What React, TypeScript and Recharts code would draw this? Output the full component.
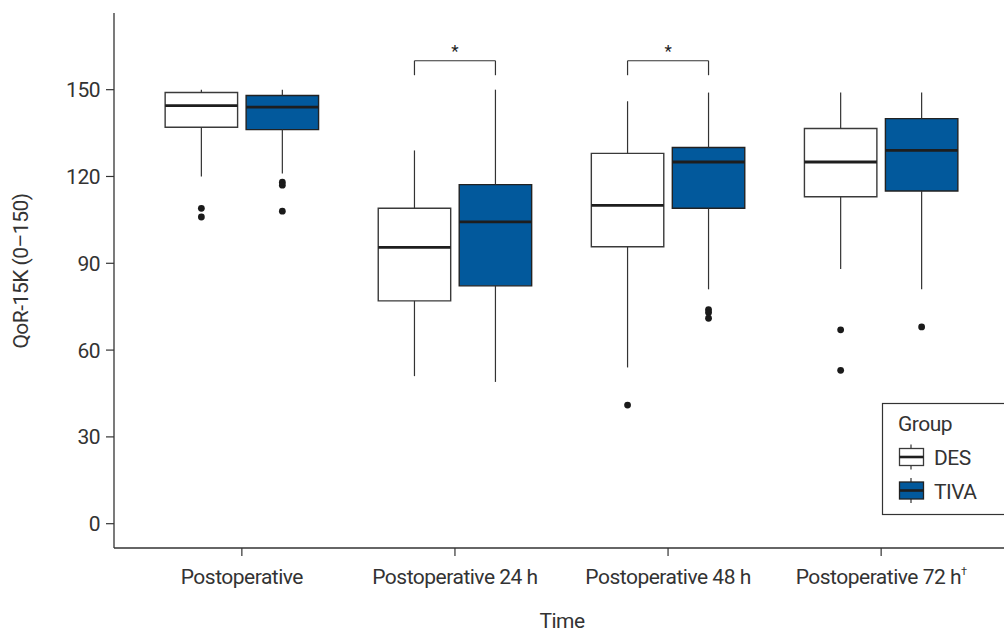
import {
  ComposedChart,
  ReferenceArea,
  ReferenceDot,
  ReferenceLine,
  Scatter,
  XAxis,
  YAxis,
} from "recharts";

const times = ["Postoperative", "Postoperative 24 h", "Postoperative 48 h", "Postoperative 72 h"];
const xTicks = [1, 2, 3, 4];
const yTicks = [0, 30, 60, 90, 120, 150];

// DES group (five-number summary per time point)
const desMin = [120, 51, 54, 88];
const desQ1 = [137, 77, 95.7, 113];
const desMedian = [144.5, 95.5, 110, 125];
const desQ3 = [149, 109, 128, 136.6];
const desMax = [150, 129, 146, 149];
const desOutliers = [[109, 106], [], [41], [67, 53]];

// TIVA group
const tivaMin = [121, 49, 81, 81];
const tivaQ1 = [136.2, 82.2, 109, 115];
const tivaMedian = [144, 104.3, 125, 129];
const tivaQ3 = [148, 117.2, 130, 140];
const tivaMax = [150, 150, 149, 149];
const tivaOutliers = [[118, 117, 108], [], [74, 73, 71], [68]];

// significance brackets
const sigTimes = [2, 3];
const sigTop = 160;
const sigFoot = 155;
const sigStar = 163.5;

const FONT = "Roboto, 'Noto Sans', sans-serif";
const FS = 21;
const LS = -0.5;
const TEXT = "#333";
const BLUE = "#02599c";
const DODGE = 0.19;
const HALF = 0.17;

const groups = [
  { name: "DES", min: desMin, q1: desQ1, med: desMedian, q3: desQ3, max: desMax, out: desOutliers, off: -DODGE, fill: "#ffffff", stroke: "#3a3a3a" },
  { name: "TIVA", min: tivaMin, q1: tivaQ1, med: tivaMedian, q3: tivaQ3, max: tivaMax, out: tivaOutliers, off: DODGE, fill: BLUE, stroke: "#222" },
];

const outlierData = groups.flatMap((g) =>
  g.out.flatMap((vals, i) => vals.map((v) => ({ x: i + 1 + g.off, y: v })))
);

const XTick = (props: any) => {
  const { x, y, payload } = props;
  const i = payload.value - 1;
  return (
    <text x={x} y={y} dy="0.71em" textAnchor="middle" fill={TEXT} fontSize={FS} letterSpacing={LS} fontFamily={FONT}>
      {times[i]}
      {i === 3 && (
        <tspan dy={-9} fontSize={11}>
          †
        </tspan>
      )}
    </text>
  );
};

const Dot = (props: any) => <circle cx={props.cx} cy={props.cy} r={3.4} fill="#1a1a1a" />;

export default function App() {
  return (
    <div style={{ position: "absolute", left: 0, top: 0, width: 1004, height: 632, overflow: "hidden", background: "#fff" }}>
      <ComposedChart width={1012} height={632} margin={{ top: 13, right: 3, bottom: 0, left: 34 }}>
        <XAxis
          type="number"
          dataKey="x"
          domain={[0.4, 4.6]}
          ticks={xTicks}
          allowDataOverflow
          height={84}
          tick={<XTick />}
          tickSize={8}
          tickMargin={13}
          axisLine={{ stroke: "#333", strokeWidth: 1.3 }}
          tickLine={{ stroke: "#333", strokeWidth: 1.2 }}
          label={{
            content: () => (
              <text x={562} y={628} textAnchor="middle" fill={TEXT} fontSize={FS} letterSpacing={LS} fontFamily={FONT}>
                Time
              </text>
            ),
          }}
        />
        <YAxis
          type="number"
          dataKey="y"
          domain={[-8.4, 176.5]}
          ticks={yTicks}
          allowDataOverflow
          width={80}
          tickSize={8}
          tickMargin={6}
          tick={{ fill: TEXT, fontSize: FS, fontFamily: FONT, letterSpacing: LS }}
          axisLine={{ stroke: "#333", strokeWidth: 1.3 }}
          tickLine={{ stroke: "#333", strokeWidth: 1.2 }}
          label={{
            content: () => (
              <text
                x={21}
                y={271}
                transform="rotate(-90 21 271)"
                textAnchor="middle"
                dominantBaseline="central"
                fill={TEXT}
                fontSize={FS}
                letterSpacing={LS}
                fontFamily={FONT}
              >
                QoR-15K (0–150)
              </text>
            ),
          }}
        />

        {groups.flatMap((g) =>
          times.map((_, i) => {
            const cx = i + 1 + g.off;
            return [
              <ReferenceLine
                key={`${g.name}-wu-${i}`}
                segment={[{ x: cx, y: g.q3[i] }, { x: cx, y: g.max[i] }]}
                stroke="#333"
                strokeWidth={1.2}
              />,
              <ReferenceLine
                key={`${g.name}-wl-${i}`}
                segment={[{ x: cx, y: g.min[i] }, { x: cx, y: g.q1[i] }]}
                stroke="#333"
                strokeWidth={1.2}
              />,
              <ReferenceArea
                key={`${g.name}-box-${i}`}
                x1={cx - HALF}
                x2={cx + HALF}
                y1={g.q1[i]}
                y2={g.q3[i]}
                fill={g.fill}
                fillOpacity={1}
                stroke={g.stroke}
                strokeWidth={1.4}
              />,
              <ReferenceLine
                key={`${g.name}-med-${i}`}
                segment={[{ x: cx - HALF, y: g.med[i] }, { x: cx + HALF, y: g.med[i] }]}
                stroke="#1e1e1e"
                strokeWidth={2.8}
              />,
            ];
          })
        )}

        {sigTimes.flatMap((t) => [
          <ReferenceLine
            key={`sig-h-${t}`}
            segment={[{ x: t - DODGE, y: sigTop }, { x: t + DODGE, y: sigTop }]}
            stroke="#333"
            strokeWidth={1.2}
          />,
          <ReferenceLine
            key={`sig-l-${t}`}
            segment={[{ x: t - DODGE, y: sigTop }, { x: t - DODGE, y: sigFoot }]}
            stroke="#333"
            strokeWidth={1.2}
          />,
          <ReferenceLine
            key={`sig-r-${t}`}
            segment={[{ x: t + DODGE, y: sigTop }, { x: t + DODGE, y: sigFoot }]}
            stroke="#333"
            strokeWidth={1.2}
          />,
          <ReferenceDot
            key={`sig-s-${t}`}
            x={t}
            y={sigStar}
            r={0}
            fill="none"
            stroke="none"
            label={{ value: "*", position: "center", fill: "#222", fontSize: 17, fontFamily: FONT }}
          />,
        ])}

        <Scatter data={outlierData} shape={<Dot />} isAnimationActive={false} />
      </ComposedChart>

      <svg width={1004} height={632} style={{ position: "absolute", left: 0, top: 0, pointerEvents: "none" }}>
        <rect x={882.5} y={403.5} width={140} height={111} fill="#fff" stroke="#333" strokeWidth={1.2} />
        <text x={898} y={431} fill={TEXT} fontSize={FS} letterSpacing={LS} fontFamily={FONT}>
          Group
        </text>
        {groups.map((g, k) => {
          const top = k === 0 ? 448.5 : 482;
          return (
            <g key={g.name}>
              <line x1={911} x2={911} y1={top - 4} y2={top + 21} stroke="#333" strokeWidth={1.2} />
              <rect x={899.5} y={top} width={24} height={17} fill={g.fill} stroke={g.stroke} strokeWidth={1.3} />
              <line x1={899.5} x2={923.5} y1={top + 8.5} y2={top + 8.5} stroke="#1e1e1e" strokeWidth={2.6} />
              <text x={934} y={top + 16.5} fill={TEXT} fontSize={FS} letterSpacing={LS} fontFamily={FONT}>
                {g.name}
              </text>
            </g>
          );
        })}
      </svg>
    </div>
  );
}
